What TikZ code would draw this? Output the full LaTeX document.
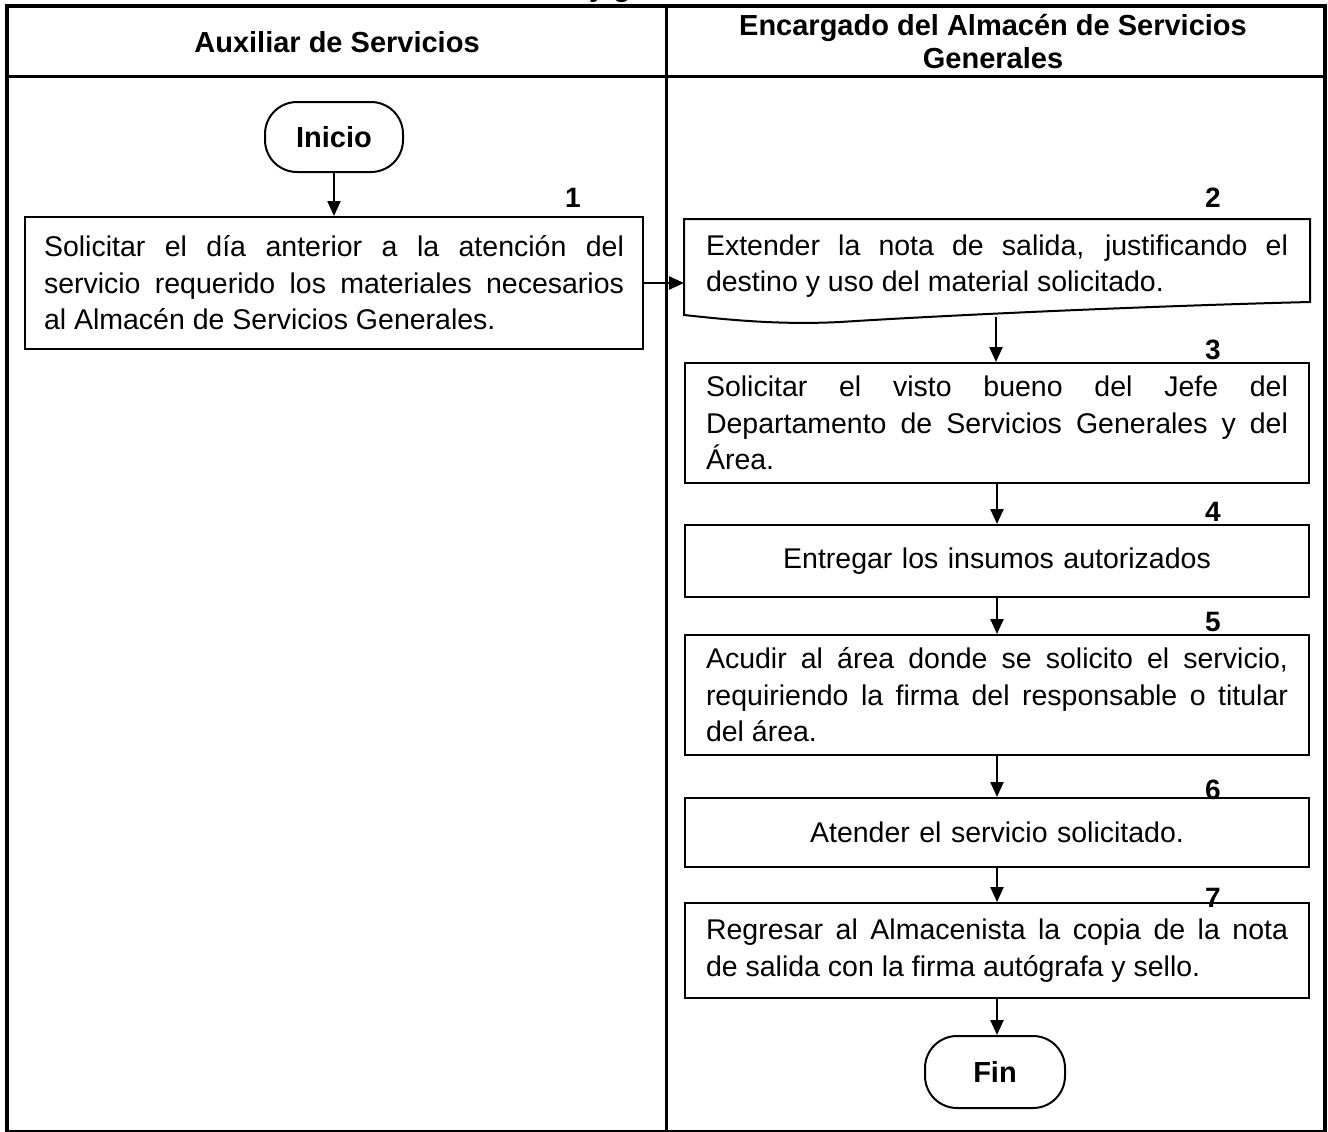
\documentclass[tikz,border=0pt]{standalone}
\usepackage{fontspec}
\setmainfont{Liberation Sans}
\usetikzlibrary{arrows.meta}
\newcommand\mybody{\fontsize{28.5}{36.5}\selectfont}
\newcommand\myhead{\bfseries\fontsize{29}{33}\selectfont}
\newcommand\mynum{\bfseries\fontsize{28}{30}\selectfont}
\begin{document}
\begin{tikzpicture}[x=1pt,y=-1pt,
  frameline/.style={line width=4pt},
  laneline/.style={line width=3.3pt},
  procbox/.style={draw, line width=2pt, anchor=north west, inner ysep=0pt,
    font=\mybody, align=justify},
  wide/.style={text width=582pt, inner xsep=21pt},
  narrow/.style={text width=580pt, inner xsep=19pt},
  termbox/.style={draw, line width=2pt, rounded corners=32pt, font=\myhead,
    minimum width=138pt, minimum height=70pt, inner sep=0pt},
  numlabel/.style={font=\mynum, anchor=center, inner sep=0pt},
  flow/.style={line width=2.4pt, -{Triangle[length=15pt,width=13pt]}},
  headtext/.style={font=\myhead, align=center, inner sep=0pt}
]
\useasboundingbox (0,0) rectangle (1328,1132);

% cut-off title fragment
\node[font=\myhead, anchor=base, inner sep=0pt] (ttl) at (610,-3) {y g};

% frame and lanes
\draw[frameline] (7,6) -- (1325,6);
\draw[frameline] (7,4) -- (7,1134);
\draw[frameline] (1325,4) -- (1325,1134);
\draw[frameline] (5,1132) -- (1327,1132);
\draw[laneline] (7,76.5) -- (1325,76.5);
\draw[laneline] (666.5,6) -- (666.5,1134);

% headers
\node[headtext] (h1) at (337,42) {Auxiliar de Servicios};
\node[headtext] (h2) at (993,42) {Encargado del Almacén de Servicios\\Generales};

% left lane
\node[termbox] (ini) at (334,137) {Inicio};
\node[procbox, narrow, minimum height=132pt] (b1) at (24,216)
  {Solicitar el día anterior a la atención del\linebreak
   servicio requerido los materiales necesarios\linebreak
   al Almacén de Servicios Generales.};
\node[numlabel] (n1) at (573,198) {1};

% right lane
\node[procbox, wide, draw=none, minimum height=92pt] (b2) at (684,219)
  {Extender la nota de salida, justificando el\linebreak
   destino y uso del material solicitado.};
\draw[line width=2pt] (b2.north west) -- (b2.north east) -- ++(0,83)
  .. controls (1150,306) and (950,315) .. (840,322)
  .. controls (780,325) and (730,320) .. (684,315) -- cycle;
\coordinate (b2s) at (996,317);
\node[numlabel] (n2) at (1213,198) {2};

\node[procbox, wide, minimum height=120pt] (b3) at (684,362)
  {Solicitar el visto bueno del Jefe del\linebreak
   Departamento de Servicios Generales y del\linebreak
   Área.};
\node[numlabel] (n3) at (1213,350) {3};

\node[procbox, wide, minimum height=72pt, align=center] (b4) at (684,524)
  {Entregar los insumos autorizados};
\node[numlabel] (n4) at (1213,512) {4};

\node[procbox, wide, minimum height=120pt] (b5) at (684,634)
  {Acudir al área donde se solicito el servicio,\linebreak
   requiriendo la firma del responsable o titular\linebreak
   del área.};
\node[numlabel] (n5) at (1213,622) {5};

\node[procbox, wide, minimum height=69pt, align=center] (b6) at (684,797)
  {Atender el servicio solicitado.};
\node[numlabel] (n6) at (1213,790) {6};

\node[procbox, wide, minimum height=95pt] (b7) at (684,902)
  {Regresar al Almacenista la copia de la nota\linebreak
   de salida con la firma autógrafa y sello.};
\node[numlabel] (n7) at (1213,898) {7};

\node[termbox, minimum width=140pt, minimum height=72pt] (fin) at (995,1072) {Fin};

% connectors
\draw[flow] (ini.south) -- (ini.south |- b1.north);
\draw[flow] (b1.east) -- (b1.east -| b2.west);
\draw[flow] (b2s) -- (b2s |- b3.north);
\draw[flow] (b3.south) -- (b4.north);
\draw[flow] (b4.south) -- (b5.north);
\draw[flow] (b5.south) -- (b6.north);
\draw[flow] (b6.south) -- (b7.north);
\draw[flow] (b7.south) -- (b7.south |- fin.north);
\end{tikzpicture}
\end{document}
